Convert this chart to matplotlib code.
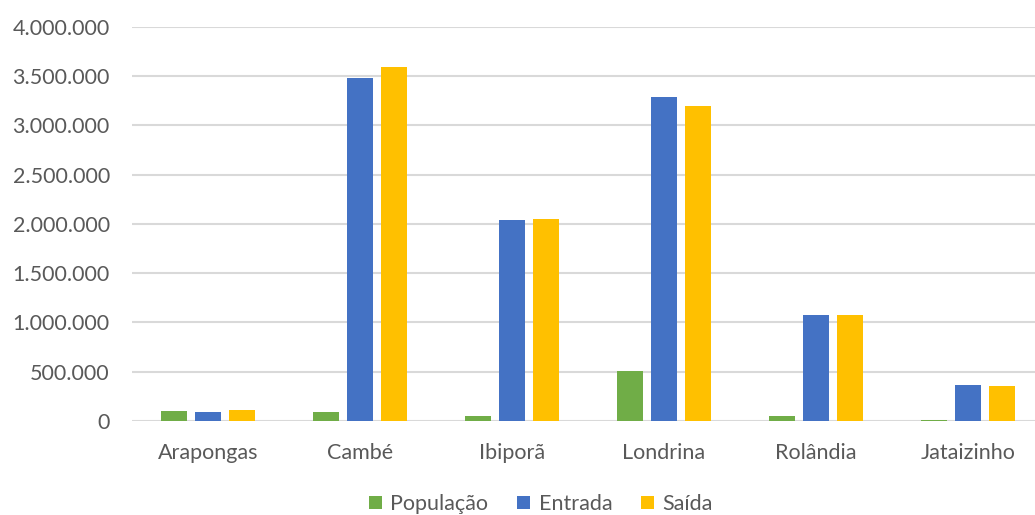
import matplotlib
matplotlib.use("Agg")
import matplotlib.pyplot as plt
from matplotlib.ticker import FuncFormatter
import numpy as np

plt.rcParams['font.family'] = ['Lato', 'DejaVu Sans']

cidades = ["Arapongas", "Cambé", "Ibiporã", "Londrina", "Rolândia", "Jataizinho"]
populacao = [105000, 95000, 50000, 505000, 55000, 12000]
entrada = [95000, 3480000, 2040000, 3285000, 1075000, 362000]
saida = [108000, 3595000, 2050000, 3190000, 1080000, 355000]

series = [("População", populacao, "#70AD47"),
          ("Entrada", entrada, "#4472C4"),
          ("Saída", saida, "#FFC000")]

W, H = 1035, 515
fig = plt.figure(figsize=(W / 100, H / 100), dpi=100)
ax = fig.add_axes([132 / W, (H - 421) / H, 912 / W, 394.4 / H])

x = np.arange(len(cidades))
step = 0.224
width = 0.172
for i, (nome, vals, cor) in enumerate(series):
    ax.bar(x + (i - 1) * step, vals, width=width, color=cor, label=nome, zorder=3)

ax.set_xlim(-0.5, len(cidades) - 0.5)
ax.set_ylim(0, 4000000)
ax.set_yticks(np.arange(0, 4000001, 500000))
ax.yaxis.set_major_formatter(FuncFormatter(lambda v, p: f"{int(v):,}".replace(",", ".")))
ax.set_xticks(x)
ax.set_xticklabels(cidades)

grey = "#595959"
ax.tick_params(axis='both', length=0, labelsize=15.5, labelcolor=grey)
ax.tick_params(axis='x', pad=16)
ax.tick_params(axis='y', pad=16)
ax.grid(axis='y', color="#D9D9D9", linewidth=1.5, zorder=0)
for s in ax.spines.values():
    s.set_visible(False)

leg = fig.legend(loc='center', bbox_to_anchor=(541 / W, 1 - 504 / H), ncol=3,
                 frameon=False, fontsize=15.5, handlelength=0.6, handleheight=0.6,
                 handletextpad=0.38, columnspacing=1.35, labelcolor=grey,
                 borderpad=0)

fig.savefig("out.png", dpi=100)
